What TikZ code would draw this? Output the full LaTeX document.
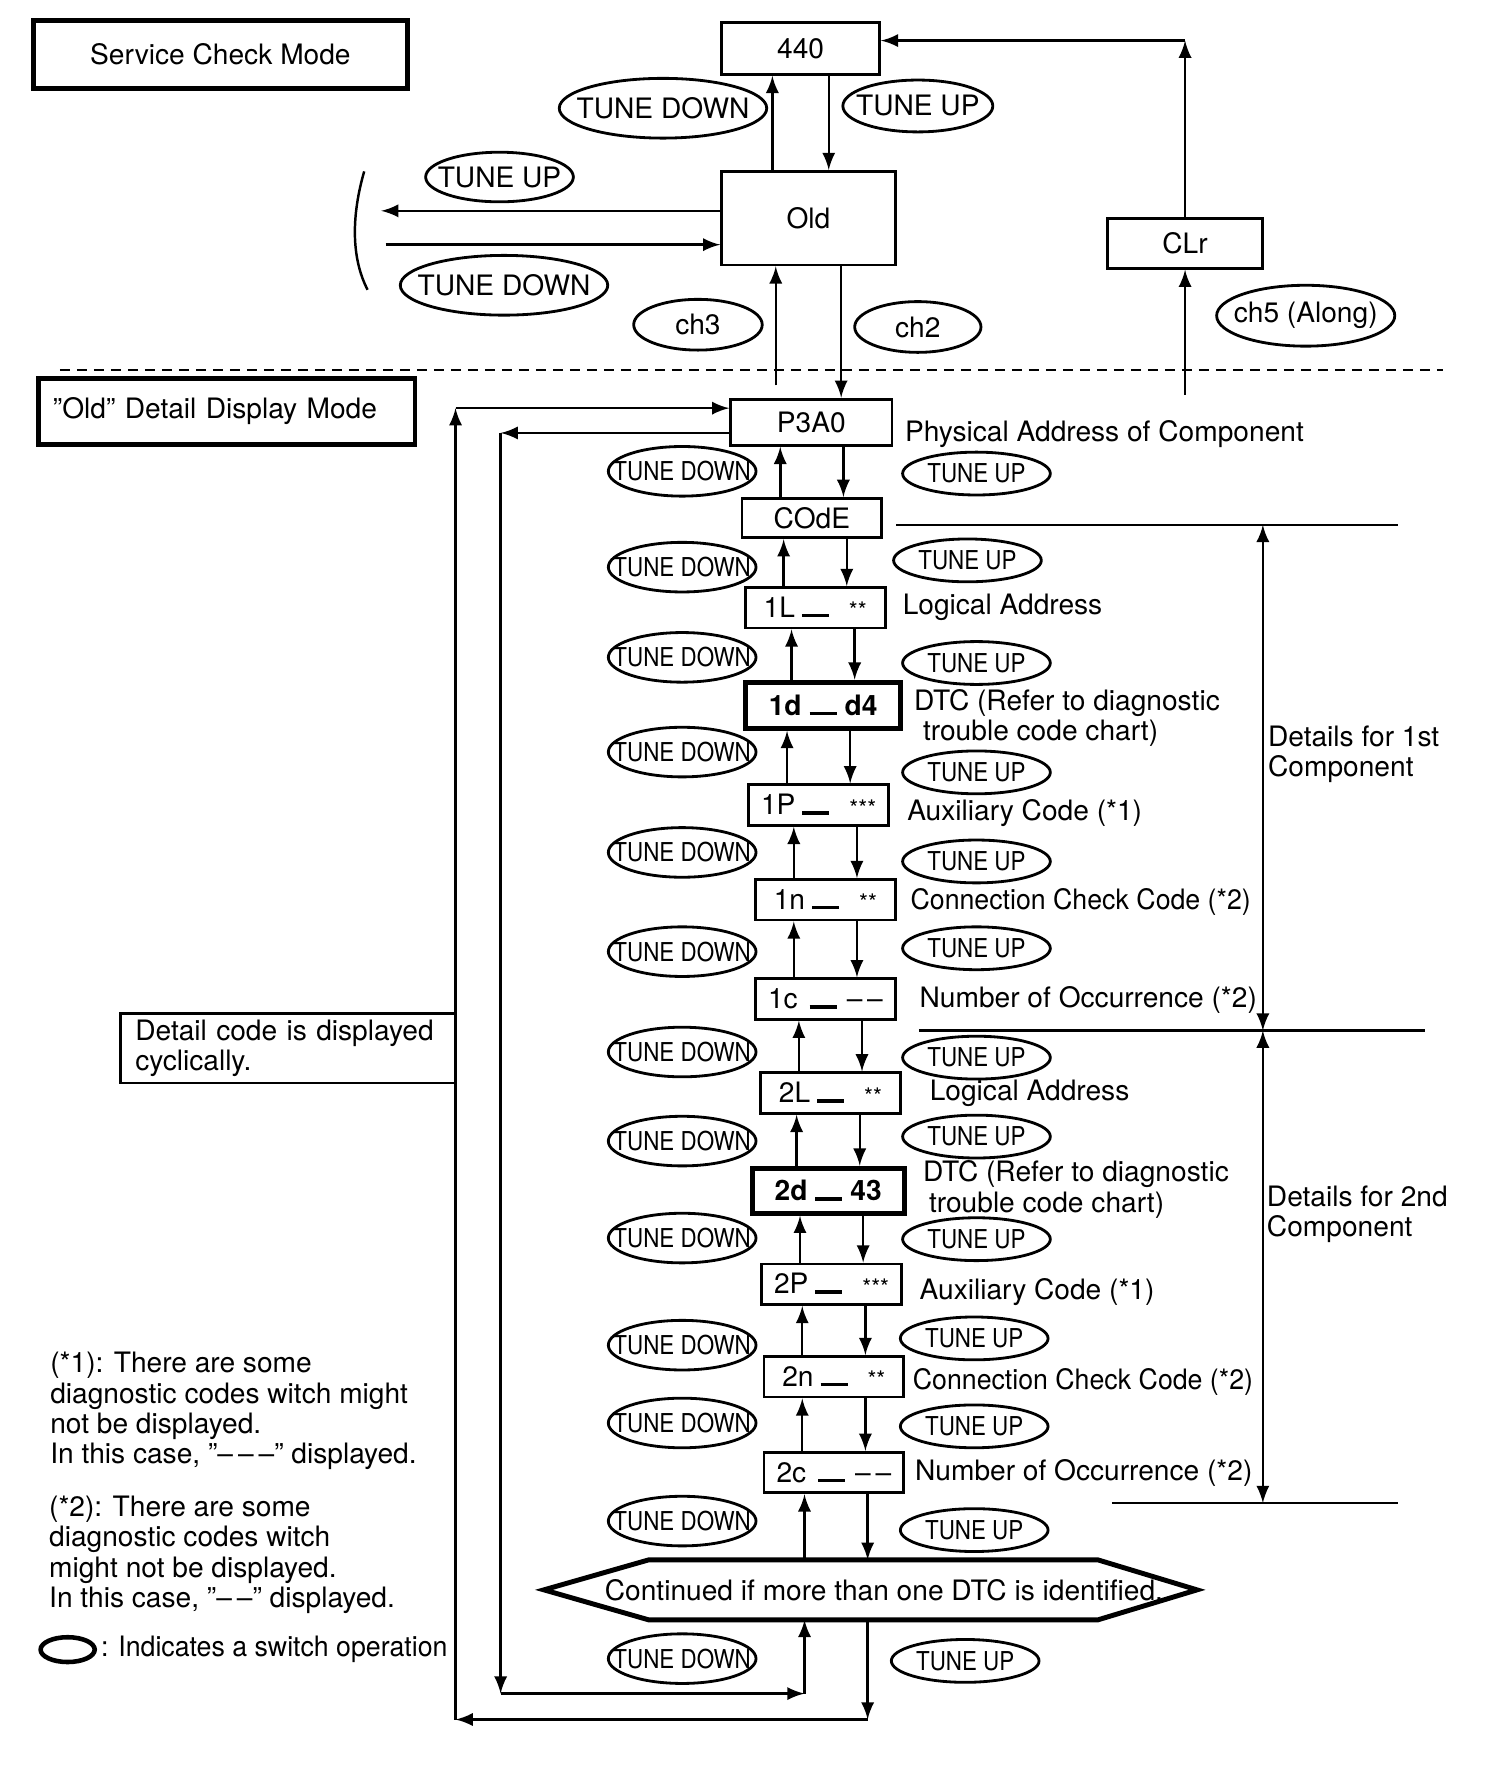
\documentclass[tikz,border=0pt]{standalone}
\usepackage{fontspec}
\setmainfont{TeX Gyre Heros}
\newfontfamily\narrowfont[FakeStretch=0.86]{TeX Gyre Heros}
\newfontfamily\condfont[FakeStretch=0.95]{TeX Gyre Heros}
\usetikzlibrary{shapes.geometric}
\def\px{0.11275mm}
\newcommand{\segbar}{\rule{2.7mm}{0.35mm}}
\newcommand{\stars}[1]{\raisebox{-0.4pt}{\fontsize{6.5}{6.5}\selectfont #1}}
\newcommand{\kt}[1]{\makebox[0pt]{#1}}

\begin{document}
\begin{tikzpicture}[
  x=\px, y=-\px,
  every node/.style={font=\fontsize{8}{9}\selectfont},
  disp/.style={draw, line width=0.8pt, inner sep=0pt, minimum width=124*\px, minimum height=36*\px},
  dtc/.style={disp, line width=1.4pt, font=\fontsize{8}{9}\selectfont\bfseries},
  modebox/.style={draw, line width=1.4pt, inner sep=0pt},
  knob/.style={draw, ellipse, line width=0.8pt, inner sep=0pt},
  bigknob/.style={knob, minimum width=184*\px, minimum height=53*\px},
  knobdn/.style={knob, minimum width=131*\px, minimum height=44*\px, font=\narrowfont\fontsize{7.4}{8}\selectfont},
  knobup/.style={knob, minimum width=131*\px, minimum height=38*\px, font=\narrowfont\fontsize{7.4}{8}\selectfont},
  lbl/.style={anchor=west, inner sep=0pt, align=left, font=\fontsize{8}{8.6}\selectfont},
  flow/.style={-latex, line width=0.7pt},
  sep/.style={line width=0.7pt},
]
\useasboundingbox (0,0) rectangle (1334,1568);

%service check mode
\node[modebox, minimum width=331*\px, minimum height=60*\px] (svc) at (195.5,48.5) {Service Check Mode};
\node[disp, minimum width=140*\px, minimum height=46*\px] (m440) at (710,43) {440};
\node[disp, minimum width=154*\px, minimum height=83*\px] (old) at (717,193.5) {Old};
\node[disp, minimum width=138*\px, minimum height=44*\px] (clr) at (1051,216) {CLr};

\node[bigknob] (td0) at (588,96) {\kt{TUNE DOWN}};
\node[knob, minimum width=133*\px, minimum height=46*\px] (tu0) at (814,94) {\kt{TUNE UP}};
\node[knob, minimum width=131*\px, minimum height=44*\px] (tul) at (443,157) {\kt{TUNE UP}};
\node[bigknob] (tdl) at (447,253) {\kt{TUNE DOWN}};
\node[knob, minimum width=114*\px, minimum height=45*\px] (ch3) at (619,288) {\kt{ch3}};
\node[knob, minimum width=112*\px, minimum height=45*\px] (ch2) at (814,290) {\kt{ch2}};
\node[knob, minimum width=158*\px, minimum height=54*\px] (ch5) at (1158,280) {\kt{ch5 (Along)}};

\draw[flow] ([xshift=-25*\px]m440.south |- old.north) -- ([xshift=-25*\px]m440.south);
\draw[flow] ([xshift=25*\px]m440.south) -- ([xshift=25*\px]m440.south |- old.north);

% to the other modes
\coordinate (bl) at (338,187);
\coordinate (br) at (342,217);
\draw[flow] (old.west |- bl) -- (bl);
\draw[flow] (br) -- (old.west |- br);
\draw[sep] (323,152) .. controls (312,190) and (311,228) .. (326,257);

% clear
\coordinate (clrin) at (1051,350);
\coordinate (clrturn) at (1051,36);
\draw[flow] (clrin) -- (clr.south);
\draw[flow] (clr.north) -- (clrturn);
\draw[flow] (clrturn) -- (clrturn -| m440.east);

\draw[sep, dash pattern=on 1mm off 0.7mm] (53,328) -- (1280,328);

%"Old" detail display mode
\node[modebox, minimum height=59*\px, text width=34.73mm, inner xsep=13*\px, align=left] (ddm) at (201,365) {''Old'' Detail Display Mode};

\node[disp, minimum width=143*\px, minimum height=41*\px] (p3a0) at (719.5,374.5) {P3A0};
\node[disp, minimum height=35*\px] (code) at (720,459.5) {COdE};
\node[disp] (l1) at (723,539) {1L\hspace{0.7mm}\segbar\hspace{2mm}\stars{**}};
\node[dtc, minimum width=138*\px, minimum height=41*\px] (d1) at (730,625.5) {1d\hspace{0.8mm}\segbar\hspace{0.8mm}d4};
\node[disp] (p1) at (726,714) {1P\hspace{0.7mm}\segbar\hspace{2mm}\stars{***}};
\node[disp] (n1) at (732,798) {1n\hspace{0.7mm}\segbar\hspace{2mm}\stars{**}};
\node[disp] (c1) at (732,886) {1c\hspace{1.2mm}\segbar\hspace{1mm}--\,--};
\node[disp] (l2) at (736.5,969.5) {2L\hspace{0.7mm}\segbar\hspace{2mm}\stars{**}};
\node[dtc, minimum width=135*\px, minimum height=40*\px] (d2) at (734.5,1056) {2d\hspace{0.8mm}\segbar\hspace{0.8mm}43};
\node[disp] (p2) at (737.5,1139) {2P\hspace{0.7mm}\segbar\hspace{2mm}\stars{***}};
\node[disp] (n2) at (739.5,1221) {2n\hspace{0.7mm}\segbar\hspace{2mm}\stars{**}};
\node[disp] (c2) at (739.5,1306) {2c\hspace{1.2mm}\segbar\hspace{1mm}--\,--};

\draw[flow] ([xshift=-29*\px,yshift=11*\px]old.south |- p3a0.north) -- ([xshift=-29*\px]old.south);
\draw[flow] ([xshift=29*\px]old.south) -- ([xshift=29*\px]old.south |- p3a0.north);

\foreach \a/\b in {p3a0/code, code/l1, l1/d1, d1/p1, p1/n1, n1/c1, c1/l2, l2/d2, d2/p2, p2/n2, n2/c2}{
  \draw[flow] ([xshift=-28*\px]\b.north) -- ([xshift=-28*\px]\b.north |- \a.south);
  \draw[flow] ([xshift=28*\px]\b.north |- \a.south) -- ([xshift=28*\px]\b.north);
}

\foreach \y [count=\i] in {418,503,583,667,756,844,933,1012,1098,1193,1262,1349,1471}
  \node[knobdn] (dn\i) at (605,\y) {\kt{TUNE DOWN}};
\foreach \x/\y [count=\i] in {866/420,858/497,866/588,866/685,866/764,866/841,866/938,866/1008,866/1099,864/1187,864/1265,864/1357,856/1473}
  \node[knobup] (up\i) at (\x,\y) {\kt{TUNE UP}};

% continued
\node[inner sep=0pt, minimum width=578*\px, minimum height=52*\px] (cont) at (772,1410) {\hspace*{2.7mm}Continued if more than one DTC is identified.};
\draw[line width=1.4pt] (cont.west) -- ([xshift=93*\px]cont.north west) -- ([xshift=-88*\px]cont.north east)
  -- (cont.east) -- ([xshift=-88*\px]cont.south east) -- ([xshift=93*\px]cont.south west) -- cycle;
\draw[flow] ([xshift=-26*\px]c2.south |- cont.north) -- ([xshift=-26*\px]c2.south);
\draw[flow] ([xshift=30*\px]c2.south) -- ([xshift=30*\px]c2.south |- cont.north);

% loops back to P3A0
\coordinate (ia) at (444,384);
\coordinate (ib) at (444,1502);
\coordinate (ic) at ([xshift=-26*\px]c2.south |- ib);
\coordinate (oa) at (404,1525);
\coordinate (ob) at (404,362);
\coordinate (oc) at ([xshift=30*\px]c2.south |- oa);
\draw[flow] (p3a0.west |- ia) -- (ia);
\draw[flow] (ia) -- (ib);
\draw[flow] (ib) -- (ic);
\draw[flow] (ic) -- (ic |- cont.south);
\draw[flow] (oc |- cont.south) -- (oc);
\draw[flow] (oc) -- (oa);
\draw[flow] (oa) -- (ob);
\draw[flow] (ob) -- (p3a0.west |- ob);

\node[draw, line width=0.8pt, inner sep=0pt, inner xsep=13*\px, text width=30.55mm, minimum height=62*\px, align=left, font=\fontsize{8}{8.6}\selectfont] (cyc) at (255.5,929.5) {Detail code is displayed\\cyclically.};

% labels
\node[lbl] (t1) at (802,385) {Physical Address of Component};
\node[lbl] (t2) at (800,539) {Logical Address};
\node[lbl] (t3) at (810,637) {DTC (Refer to diagnostic\\\hspace*{0.9mm}trouble code chart)};
\node[lbl] (t4) at (804,721) {Auxiliary Code (*1)};
\node[lbl, font=\condfont\fontsize{8}{8.6}\selectfont] (t5) at (807,800) {Connection Check Code (*2)};
\node[lbl] (t6) at (815,887) {Number of Occurrence (*2)};
\node[lbl] (t7) at (824,970) {Logical Address};
\node[lbl] (t8) at (818,1055) {DTC (Refer to diagnostic\\\hspace*{0.6mm}trouble code chart)};
\node[lbl] (t9) at (815,1146) {Auxiliary Code (*1)};
\node[lbl, font=\condfont\fontsize{8}{8.6}\selectfont] (t10) at (809,1226) {Connection Check Code (*2)};
\node[lbl] (t11) at (811,1306) {Number of Occurrence (*2)};

% groups
\coordinate (g1a) at (795,465.5);
\coordinate (g1b) at (815,914);
\coordinate (g1c) at (986,1333);
\draw[sep] (g1a) -- ++(445,0);
\draw[sep] (g1b) -- ++(449,0);
\draw[sep] (g1c) -- ++(254,0);
\draw[flow, latex-latex] (g1a -| 1120,0) -- (g1b -| 1120,0);
\draw[flow, latex-latex] (g1b -| 1120,0) -- (g1c -| 1120,0);
\node[lbl] (g1) at (1124,669) {Details for 1st\\Component};
\node[lbl] (g2) at (1123,1077) {Details for 2nd\\Component};

% notes
\node[lbl] (note1) at (44,1251.5) {(*1): There are some\\diagnostic codes witch might\\not be displayed.\\In this case, "--\hspace{0.5mm}--\hspace{0.5mm}--'' displayed.};
\node[lbl] (note2) at (43,1379) {(*2): There are some\\diagnostic codes witch\\might not be displayed.\\In this case, "--\hspace{0.5mm}--'' displayed.};
\node[knob, line width=1.3pt, minimum width=48*\px, minimum height=22*\px] (lgd) at (60,1463) {};
\node[lbl, font=\condfont\fontsize{8}{8.6}\selectfont] (lgdt) at ([xshift=3*\px]lgd.east) {: Indicates a switch operation};

\end{tikzpicture}
\end{document}
